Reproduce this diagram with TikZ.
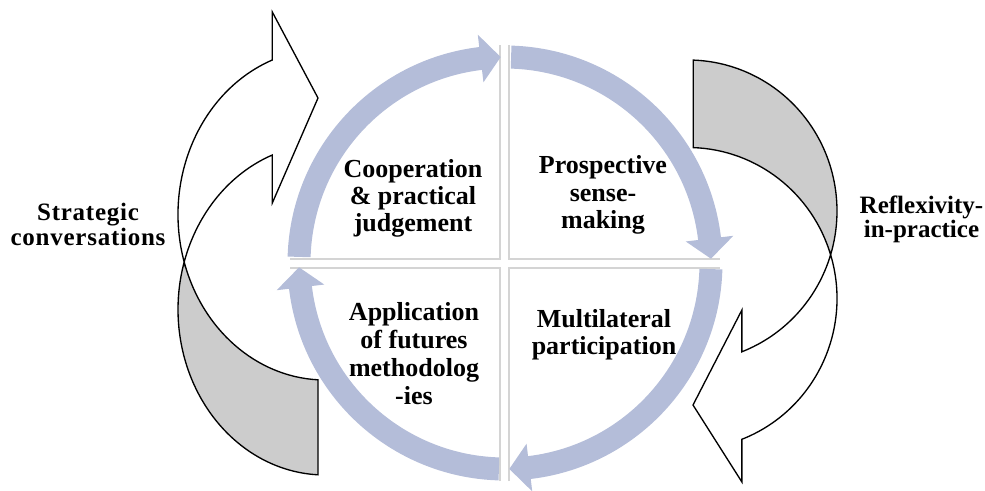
\documentclass[tikz,border=0pt]{standalone}
\usepackage{fontspec}
\setmainfont{Liberation Serif}
\newfontfamily\spacedfont[LetterSpace=3]{Liberation Serif}
\usetikzlibrary{calc}
\definecolor{ringblue}{RGB}{180,189,217}
\definecolor{backgray}{RGB}{204,204,204}
\definecolor{panelline}{RGB}{212,212,212}
\begin{document}
\begin{tikzpicture}[x=0.75pt,y=-0.75pt,
  outlined/.style={draw=black,line width=1pt,line join=miter},
  labeltext/.style={font=\bfseries\fontsize{19.5}{20.4}\selectfont,align=center,inner sep=0pt},
  sidetext/.style={font=\bfseries\fontsize{18.75}{18.2}\selectfont,align=center,inner sep=0pt},
  paneledge/.style={draw=panelline,line width=1.3pt}]

\useasboundingbox (0,0) rectangle (985,490);

% ---------------- left curved arrow ----------------
\coordinate (LA) at (325,214.5);
\coordinate (LB) at (325,309.5);
\coordinate (LheadTop) at (272.3,12);
\coordinate (LheadTip) at (318,98);
\coordinate (LheadBot) at (272.3,203);
\draw[outlined,fill=backgray]
  ([shift={(163.3:147 and 165.5)}]LA)
  arc[start angle=163.3,end angle=92.7,x radius=147,y radius=165.5]
  -- ([shift={(92.7:147 and 165.5)}]LB)
  arc[start angle=92.7,end angle=196.7,x radius=147,y radius=165.5]
  -- cycle;
\draw[outlined,fill=white]
  ([shift={(163.3:147 and 165.5)}]LA)
  arc[start angle=163.3,end angle=249,x radius=147,y radius=165.5]
  -- (LheadTop) -- (LheadTip) -- (LheadBot)
  -- ([shift={(249:147 and 165.5)}]LB)
  arc[start angle=249,end angle=196.7,x radius=147,y radius=165.5]
  -- cycle;

% ---------------- right curved arrow ----------------
\coordinate (RA) at (688,211);
\coordinate (RB) at (688,298.5);
\coordinate (RheadBot) at (741.9,482);
\coordinate (RheadTip) at (693,405);
\coordinate (RheadTop) at (741.9,310);
\draw[outlined,fill=backgray]
  ([shift={(16.9:149 and 151)}]RA)
  arc[start angle=16.9,end angle=-88,x radius=149,y radius=151]
  -- ([shift={(-88:149 and 151)}]RB)
  arc[start angle=-88,end angle=-16.9,x radius=149,y radius=151]
  -- cycle;
\draw[outlined,fill=white]
  ([shift={(-16.9:149 and 151)}]RB)
  arc[start angle=-16.9,end angle=68.8,x radius=149,y radius=151]
  -- (RheadBot) -- (RheadTip) -- (RheadTop)
  -- ([shift={(68.8:149 and 151)}]RA)
  arc[start angle=68.8,end angle=16.9,x radius=149,y radius=151]
  -- cycle;

% ---------------- quadrant panel edges ----------------
\coordinate (c) at (505,263);
\draw[paneledge] (500,45) -- (500,259) -- (290,259);
\draw[paneledge] (509,45) -- (509,259) -- (720,259);
\draw[paneledge] (500,481) -- (500,268) -- (290,268);
\draw[paneledge] (509,481) -- (509,268) -- (720,268);

% ---------------- cycle arrows ----------------
\foreach \s in {180,270,360,450}{
  \fill[ringblue]
    ([shift={({\s+1.7}:217.5)}]c)
    arc[start angle=\s+1.7,end angle=\s+83.2,radius=217.5]
    -- ([shift={({\s+83.2}:230)}]c)
    -- ([shift={({\s+88.8}:206)}]c)
    -- ([shift={({\s+83.2}:182)}]c)
    -- ([shift={({\s+83.2}:194.5)}]c)
    arc[start angle=\s+83.2,end angle=\s+1.7,radius=194.5]
    -- cycle;
}

% ---------------- texts ----------------
\node[labeltext] (coop) at (413,198.5) {Cooperation\\\& practical\\judgement};
\node[labeltext] (prosp) at (603,195) {Prospective\\sense-\\making};
\node[labeltext,font=\bfseries\fontsize{19.5}{20.8}\selectfont] (appl) at (414,353.5) {Application\\of futures\\methodolog\\-ies};
\node[labeltext] (multi) at (604,335) {Multilateral\\participation};
\node[sidetext,font=\spacedfont\bfseries\fontsize{18.75}{18.75}\selectfont] (strat) at (88,224) {Strategic\\conversations};
\node[sidetext] (refl) at (921.5,219) {Reflexivity-\\in-practice};
\end{tikzpicture}
\end{document}
